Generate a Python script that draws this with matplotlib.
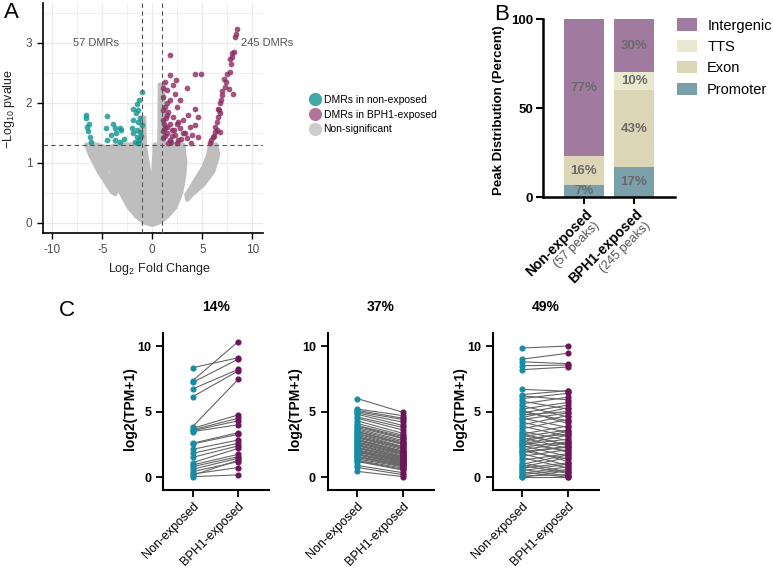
import matplotlib.pyplot as plt
from matplotlib.lines import Line2D

plt.rcParams['font.family'] = ['Liberation Sans', 'DejaVu Sans']
plt.rcParams['mathtext.fontset'] = 'custom'
plt.rcParams['mathtext.rm'] = 'Liberation Sans'
plt.rcParams['axes.unicode_minus'] = False

# ---------------------------------------------------------------
# Panel A: volcano plot
# ---------------------------------------------------------------
teal_x = [-6.63, -6.6, -6.5, -6.4, -6.2, -6.1, -6.3,
          -4.5, -4.6, -4.5, -3.9, -3.7, -3.6, -3.2, -3.1, -3.7, -3.2, -4.1, -2.83,
          -1.07, -1.3, -1.57, -1.9, -1.4, -1.63, -1.9, -1.4, -2.07, -1.57, -1.23,
          -1.9, -1.57, -1.3, -1.73, -1.4, -1.07, -1.15, -1.25]
teal_y = [1.79, 1.74, 1.6, 1.52, 1.43, 1.35, 1.65,
          1.78, 1.57, 1.38, 1.65, 1.57, 1.49, 1.57, 1.54, 1.38, 1.35, 1.46, 1.40,
          2.17, 2.04, 1.98, 1.90, 1.87, 1.82, 1.71, 1.68, 1.57, 1.54, 1.51,
          1.49, 1.43, 1.38, 1.35, 1.32, 1.62, 1.45, 1.75]

bph_x = [8.5, 8.4, 8.3, 8.17, 8.0, 7.9, 7.8, 7.5, 7.4, 7.3, 7.7, 8.1, 7.0, 6.8,
         6.7, 6.6, 6.5, 6.3, 6.27, 6.1, 5.9, 5.77, 6.77, 6.77, 6.9, 7.77, 7.93,
         6.6, 6.45, 6.95, 7.15, 6.2,
         1.77, 1.77, 4.27, 4.87, 1.27, 2.37, 2.03, 1.43, 2.27, 3.5, 1.1, 1.77,
         2.77, 1.27, 2.43, 4.27, 3.6, 4.6, 1.43, 2.1, 1.1, 1.77, 2.6, 3.1, 1.27,
         1.93, 2.77, 3.77, 4.27, 1.43, 2.27, 3.1, 3.93, 4.6, 1.1, 1.77, 2.6, 3.43,
         1.6, 2.43, 3.87, 1.1, 1.1, 1.1, 1.5, 2.0, 1.35, 1.6, 2.2, 1.25, 1.9,
         1.45, 2.5, 1.15, 2.9, 3.3]
bph_y = [3.22, 3.15, 3.1, 2.85, 2.76, 2.65, 2.51, 2.48, 2.35, 2.26, 2.23, 2.15,
         2.13, 1.99, 1.88, 1.76, 1.68, 1.60, 1.51, 1.43, 1.38, 1.32, 1.51, 1.82,
         2.04, 2.73, 2.82, 1.9, 1.55, 2.2, 2.4, 1.45,
         2.80, 2.46, 2.48, 2.48, 2.34, 2.38, 2.29, 2.21, 2.15, 2.25, 2.10, 2.04,
         2.04, 1.93, 1.93, 1.90, 1.79, 1.76, 1.79, 1.76, 1.71, 1.65, 1.68, 1.71,
         1.57, 1.54, 1.57, 1.60, 1.62, 1.49, 1.46, 1.49, 1.46, 1.43, 1.41, 1.38,
         1.38, 1.41, 1.32, 1.32, 1.32, 1.52, 1.88, 2.24, 1.6, 1.45, 1.75, 1.85,
         1.55, 1.45, 1.35, 2.0, 1.65, 1.65, 1.4, 1.5]

# outline of the dense cloud of non-significant points
ns_main_x = [-6.6, -5.6, -4.9, -4.5, -3.5, -1.05, -1.05, -0.8, -0.75, 0.0, 0.25,
             0.7, 0.75, 1.1, 1.15, 3.1, 3.3, 3.2, 2.9, 2.3, 1.5, 0.7, 0.0,
             -0.8, -1.6, -2.4, -3.23, -4.23, -4.75, -4.6, -3.56, -3.7, -4.06,
             -4.56, -5.4, -6.23]
ns_main_y = [1.3, 1.3, 1.27, 1.24, 1.3, 1.3, 1.75, 1.75, 1.3, 0.5, 1.3,
             1.3, 2.3, 2.3, 1.3, 1.3, 1.02, 0.78, 0.5, 0.25, 0.1, 0.0, -0.04,
             0.0, 0.1, 0.26, 0.52, 0.9, 1.16, 0.85, 0.54, 0.47, 0.51,
             0.64, 0.86, 1.13]
ns_arm_x = [5.77, 6.4, 6.6, 6.1, 5.1, 3.94, 3.5, 3.4, 4.1, 5.1, 5.6]
ns_arm_y = [1.3, 1.3, 1.13, 0.85, 0.63, 0.46, 0.38, 0.46, 0.65, 0.92, 1.13]

# ---------------------------------------------------------------
# Panel B: peak distribution
# ---------------------------------------------------------------
groups = ['Non-exposed', 'BPH1-exposed']
peak_counts = ['(57 peaks)', '(245 peaks)']
promoter = [7, 17]
exon = [16, 43]
tts = [0, 10]
intergenic = [77, 30]

# ---------------------------------------------------------------
# Panel C: paired expression
# ---------------------------------------------------------------
c_titles = ['14%', '37%', '49%']
ne1 = [8.35, 7.36, 7.23, 6.73, 6.14, 3.86, 3.73, 3.62, 3.55, 3.48, 2.59, 2.54,
       2.13, 1.83, 1.52, 1.12, 0.94, 0.81, 0.61, 0.43, 0.25, 0.05, 0.15]
bph1 = [9.1, 10.33, 9.0, 8.22, 8.1, 7.46, 4.75, 4.49, 4.3, 4.0, 3.4, 3.27,
        2.84, 2.59, 2.39, 2.2, 1.75, 1.57, 1.45, 1.19, 0.74, 0.18, 1.3]
ne2 = [6.0, 5.2, 5.1, 5.0, 4.9, 4.8, 4.6, 4.5, 4.3, 4.1, 3.95, 3.9, 3.8, 3.7,
       3.6, 3.5, 3.45, 3.35, 3.3, 3.2, 3.1, 3.05, 3.0, 2.9, 2.85, 2.8, 2.7,
       2.65, 2.6, 2.5, 2.45, 2.4, 2.3, 2.25, 2.2, 2.1, 2.05, 2.0, 1.95, 1.9,
       1.8, 1.75, 1.7, 1.6, 1.55, 1.5, 1.4, 1.3, 1.25, 1.2, 0.9, 0.75, 0.45]
bph2 = [4.95, 4.7, 4.5, 4.4, 4.2, 3.95, 3.8, 3.6, 3.35, 3.2, 3.1, 3.0, 2.95,
        2.8, 2.7, 2.6, 2.55, 2.5, 2.35, 2.3, 2.25, 2.2, 2.1, 2.0, 1.95, 1.9,
        1.85, 1.8, 1.75, 1.7, 1.6, 1.55, 1.5, 1.45, 1.4, 1.35, 1.3, 1.25, 1.2,
        1.15, 1.1, 1.05, 1.0, 0.95, 0.9, 0.85, 0.8, 0.7, 0.6, 0.55, 0.35, 0.2,
        0.05]
ne3 = [9.85, 9.0, 8.8, 8.5, 8.2, 6.7, 6.3, 6.2, 6.0, 5.8, 5.6, 5.45, 5.2, 5.0,
       4.9, 4.75, 4.5, 4.4, 4.2, 4.0, 3.9, 3.7, 3.5, 3.3, 3.2, 3.1, 3.0, 2.9,
       2.8, 2.7, 2.6, 2.5, 2.4, 2.3, 2.2, 2.1, 2.0, 1.9, 1.8, 1.6, 1.5, 1.3,
       1.1, 1.0, 0.9, 0.8, 0.6, 0.5, 0.4, 0.3, 0.2, 0.1, 0.0, 0.05, 2.55, 3.35,
       4.55, 5.1, 1.95, 0.7]
bph3 = [10.0, 9.45, 8.65, 8.55, 8.4, 6.55, 6.6, 5.9, 6.4, 5.2, 6.1, 4.6, 5.7,
        4.3, 5.5, 5.0, 3.8, 4.9, 3.4, 4.7, 3.1, 4.4, 2.8, 3.9, 2.5, 3.6, 2.2,
        3.3, 1.9, 3.5, 2.0, 2.9, 1.6, 2.7, 1.2, 2.6, 1.4, 2.3, 0.9, 2.1, 0.7,
        1.8, 0.4, 1.7, 0.3, 1.5, 0.1, 1.0, 0.0, 0.8, 0.6, 0.2, 0.5, 0.05, 3.2,
        2.4, 5.3, 4.1, 2.35, 1.1]
paired = [(ne1, bph1), (ne2, bph2), (ne3, bph3)]

W, H = 773, 568
fig = plt.figure(figsize=(W / 100, H / 100), dpi=100)


def axes_px(left, top, right, bottom):
    # place an axes using pixel edges of the reference
    return fig.add_axes([left / W, 1 - bottom / H, (right - left) / W, (bottom - top) / H])


# ---------------- A ----------------
axA = axes_px(42.7, 3, 263, 233.3)
axA.set_xlim(-10.96, 11.07)
axA.set_ylim(-0.18, 3.66)
axA.set_xticks([-10, -5, 0, 5, 10])
axA.set_xticks([-7.5, -2.5, 2.5, 7.5], minor=True)
axA.set_yticks([0, 1, 2, 3])
axA.set_yticks([0.5, 1.5, 2.5, 3.5], minor=True)
axA.grid(which='major', color='#ebebeb', lw=1.0)
axA.grid(which='minor', color='#f0f0f0', lw=0.7)
axA.set_axisbelow(True)
axA.tick_params(which='minor', length=0)
axA.tick_params(which='major', length=4, width=1, color='black',
                labelsize=8.5, labelcolor='#4d4d4d')
for s in ['top', 'right']:
    axA.spines[s].set_visible(False)
for s in ['left', 'bottom']:
    axA.spines[s].set_linewidth(1.2)

grey = '#bebebe'
axA.fill(ns_main_x, ns_main_y, color=grey, ec=grey, lw=3, joinstyle='round', zorder=2)
axA.fill(ns_arm_x, ns_arm_y, color=grey, ec=grey, lw=3, joinstyle='round', zorder=2)
axA.scatter(teal_x, teal_y, s=17, color='#12948f', alpha=0.8, lw=0, zorder=3)
axA.scatter(bph_x, bph_y, s=17, color='#8b2a5f', alpha=0.8, lw=0, zorder=3)
for xv in [-1, 1]:
    axA.axvline(xv, color='#555555', lw=0.8, ls=(0, (4, 3)), zorder=4)
axA.axhline(1.3, color='#555555', lw=0.8, ls=(0, (4, 3)), zorder=4)
axA.text(-5.6, 3.0, '57 DMRs', ha='center', va='center', fontsize=8, color='#555555')
axA.text(8.85, 3.0, '245 DMRs', ha='left', va='center', fontsize=8, color='#555555',
         clip_on=False)
axA.set_xlabel('Log$\\mathregular{_2}$ Fold Change', fontsize=9, color='#222222')
axA.xaxis.set_label_coords(0.53, -0.12)
axA.set_ylabel('\u2212Log$\\mathregular{_{10}}$ pvalue', fontsize=9, color='#222222')
axA.yaxis.set_label_coords(-0.118, 0.54)

legA = [Line2D([], [], ls='', marker='o', ms=9.5, color='#12948f', alpha=0.8,
               mec='none', label='DMRs in non-exposed'),
        Line2D([], [], ls='', marker='o', ms=9.5, color='#8b2a5f', alpha=0.65,
               mec='none', label='DMRs in BPH1-exposed'),
        Line2D([], [], ls='', marker='o', ms=9.5, color='#cccccc',
               mec='none', label='Non-significant')]
fig.legend(handles=legA, loc='upper left', bbox_to_anchor=(309.5 / W, 1 - 95 / H),
           frameon=False, fontsize=7.5, handlelength=1.0, handletextpad=0.35,
           labelspacing=0.45, borderpad=0, borderaxespad=0)

# ---------------- B ----------------
axB = axes_px(543.3, 19, 675, 197.3)
xb = [0, 1]
seg_colors = {'Promoter': '#7aa0ac', 'Exon': '#ddd6b6', 'TTS': '#e9e9cf',
              'Intergenic': '#a17b9f'}
bottom = [0, 0]
for name, vals in [('Promoter', promoter), ('Exon', exon), ('TTS', tts),
                   ('Intergenic', intergenic)]:
    axB.bar(xb, vals, 0.8, bottom=bottom, color=seg_colors[name], label=name)
    for i, v in enumerate(vals):
        if v > 0:
            axB.text(xb[i], bottom[i] + v / 2, f'{v}%', ha='center', va='center',
                     fontsize=9.5, fontweight='bold', color='#6a6a6a')
    bottom = [bottom[i] + vals[i] for i in range(2)]
axB.set_xlim(-0.81, 1.82)
axB.set_ylim(0, 100)
axB.set_yticks([0, 50, 100])
for s in ['top', 'right']:
    axB.spines[s].set_visible(False)
for s in ['left', 'bottom']:
    axB.spines[s].set_linewidth(1.8)
axB.tick_params(length=5, width=1.5, labelsize=9.5, pad=2.5)
for lab in axB.get_yticklabels():
    lab.set_fontweight('bold')
axB.set_xticks(xb)
axB.set_xticklabels(['', ''])
for i in range(2):
    axB.annotate(groups[i], (xb[i], 0), xycoords=('data', 'axes fraction'),
                 xytext=(1, -10), textcoords='offset pixels', rotation=45,
                 rotation_mode='anchor', ha='right', va='top', fontsize=10,
                 fontweight='bold')
    axB.annotate(peak_counts[i], (xb[i], 0), xycoords=('data', 'axes fraction'),
                 xytext=(10, -22), textcoords='offset pixels', rotation=45,
                 rotation_mode='anchor', ha='right', va='top', fontsize=9,
                 color='#555555')
axB.set_ylabel('Peak Distribution (Percent)', fontsize=9.5, fontweight='bold')
axB.yaxis.set_label_coords(-0.29, 0.49)
hB, lB = axB.get_legend_handles_labels()
fig.legend(hB[::-1], lB[::-1], loc='upper left', bbox_to_anchor=(677 / W, 1 - 18.5 / H),
           frameon=False, fontsize=10.5, handlelength=1.37, handleheight=0.9,
           handletextpad=0.7, labelspacing=0.5, borderpad=0, borderaxespad=0)

# ---------------- C ----------------
c_lefts = [163.1, 327.7, 492.7]
for k in range(3):
    ax = axes_px(c_lefts[k], 332.9, c_lefts[k] + 106, 490.4)
    ne, bph = paired[k]
    for a, b in zip(ne, bph):
        ax.plot([0, 1], [a, b], color='#666666', lw=0.8, zorder=2)
    ax.plot([0] * len(ne), ne, ls='', marker='o', ms=3.4, color='#178ca4', zorder=3)
    ax.plot([1] * len(bph), bph, ls='', marker='o', ms=3.4, color='#6b145c', zorder=3)
    ax.set_xlim(-0.65, 1.68)
    ax.set_ylim(-1, 11)
    ax.set_yticks([0, 5, 10])
    ax.set_xticks([0, 1])
    ax.set_xticklabels(groups, rotation=45, ha='right', rotation_mode='anchor',
                       fontsize=8.8)
    for s in ['top', 'right']:
        ax.spines[s].set_visible(False)
    for s in ['left', 'bottom']:
        ax.spines[s].set_linewidth(1.5)
    ax.tick_params(length=5, width=1.3, labelsize=9)
    ax.tick_params(axis='x', pad=2)
    for lab in ax.get_yticklabels():
        lab.set_fontweight('bold')
    ax.set_ylabel('log2(TPM+1)', fontsize=10, fontweight='bold')
    ax.yaxis.set_label_coords(-0.245, 0.517)
    ax.text(0.5, 1.166, c_titles[k], transform=ax.transAxes, ha='center',
            va='center', fontsize=10, fontweight='bold')

# panel letters
fig.text(11.5 / W, 1 - 13 / H, 'A', fontsize=16, ha='center', va='center')
fig.text(502 / W, 1 - 14 / H, 'B', fontsize=16, ha='center', va='center')
fig.text(66.7 / W, 1 - 310 / H, 'C', fontsize=16, ha='center', va='center')

fig.savefig('out.png', dpi=100)
